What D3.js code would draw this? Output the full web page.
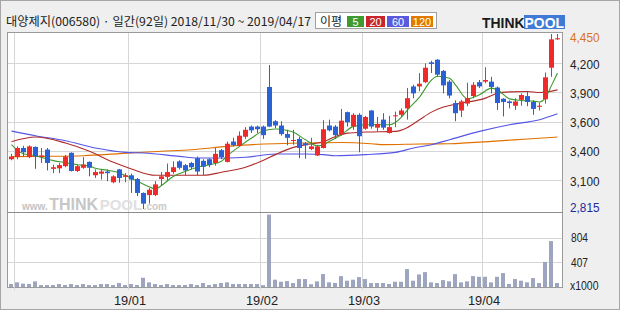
<!DOCTYPE html>
<html><head><meta charset="utf-8">
<script src="https://cdn.jsdelivr.net/npm/d3@7"></script>
<style>html,body{margin:0;padding:0;background:#efefef;}svg{display:block}</style>
</head><body><svg id="c" width="620" height="310"></svg>
<script>
// ---------- data ----------
const titleText = "대양제지(006580) · 일간(92일) 2018/11/30 ~ 2019/04/17";
const legendLabel = "이평";
const maPeriods = ["5", "20", "60", "120"];
const opens  = [3280,3300,3385,3300,3395,3300,3370,3190,3195,3215,3340,3170,3200,3255,3130,3145,3165,3065,3185,3115,3130,3095,2965,2945,2945,3095,3115,3160,3260,3225,3245,3290,3265,3280,3245,3365,3255,3445,3405,3490,3585,3585,3585,3955,3635,3595,3515,3455,3470,3430,3375,3315,3385,3595,3585,3510,3720,3585,3695,3565,3735,3575,3650,3525,3685,3695,3755,3960,3960,4000,4185,4210,4105,4005,3805,3735,3800,3870,4000,4005,4005,3950,3845,3820,3780,3835,3870,3815,3770,3840,4135,4400];
const highs  = [3330,3400,3405,3410,3400,3385,3385,3230,3245,3320,3345,3230,3300,3260,3185,3185,3185,3130,3190,3150,3145,3105,2970,3010,3075,3160,3240,3260,3270,3235,3255,3305,3280,3290,3385,3375,3445,3480,3540,3580,3595,3595,3595,4160,3645,3635,3555,3555,3490,3440,3480,3415,3645,3650,3600,3750,3725,3710,3710,3685,3740,3675,3710,3685,3725,3755,3945,3975,4085,4175,4200,4215,4115,4020,3830,3835,3995,4000,4020,4140,4050,3960,3850,3830,3850,3895,3915,3830,3810,4090,4450,4450];
const lows   = [3270,3280,3305,3290,3190,3245,3175,3150,3150,3205,3165,3160,3190,3120,3105,3090,3075,3055,3060,3065,2965,2935,2815,2865,2935,3030,3075,3145,3185,3130,3185,3130,3130,3205,3220,3280,3250,3400,3400,3470,3525,3525,3470,3580,3570,3500,3410,3415,3290,3285,3365,3310,3380,3540,3470,3500,3585,3555,3345,3555,3565,3540,3555,3520,3580,3675,3650,3850,3915,3990,4085,4050,3895,3850,3635,3675,3775,3850,3945,3990,3895,3740,3680,3755,3740,3780,3775,3695,3735,3800,4050,4395];
const closes = [3305,3385,3345,3400,3305,3315,3245,3205,3225,3305,3170,3215,3230,3200,3160,3165,3150,3120,3105,3130,3090,2965,2865,2995,3045,3120,3160,3205,3200,3175,3205,3165,3210,3225,3330,3300,3425,3410,3500,3555,3550,3560,3505,3585,3595,3515,3480,3460,3385,3410,3400,3400,3560,3550,3505,3640,3625,3695,3495,3675,3585,3610,3575,3580,3690,3735,3850,3895,3985,4135,4170,4070,3970,3875,3710,3820,3850,3975,3960,4020,3955,3805,3815,3805,3820,3880,3815,3750,3780,4045,4400,4410];
const volumes = [49,76,55,49,92,32,32,32,49,32,49,32,49,32,32,49,49,32,65,32,49,32,151,76,49,32,49,32,32,32,49,32,65,32,49,65,76,49,49,49,49,49,30,1183,119,86,97,65,130,130,45,92,211,76,65,178,103,119,162,130,65,65,65,49,86,86,292,103,205,243,76,65,113,92,211,76,92,178,167,167,76,167,227,49,130,103,76,146,65,410,750,65];

const ma5Idx  = [0,1,2,4,7,9,11,13,14,16,18,19,21,23,24,25,27,29,31,33,35,36,38,40,42,44,46,47,49,51,52,53,55,57,59,61,63,65,66,68,70,71,73,74,76,78,80,81,83,85,87,88,89,90,91];
const ma5Val  = [3416,3363,3332,3313,3267,3248,3229,3217,3195,3177,3152,3127,3074,3021,3003,3034,3121,3167,3205,3229,3261,3313,3400,3478,3546,3562,3549,3531,3462,3406,3416,3447,3509,3587,3602,3602,3602,3674,3742,3860,4020,4055,4037,3975,3844,3882,3944,3928,3844,3829,3823,3815,3855,3970,4085];
const ma20Idx = [0,4,9,13,17,20,24,28,32,35,39,42,44,47,49,52,54,56,59,64,66,68,70,72,75,79,81,83,86,88,91];
const ma20Val = [3444,3487,3431,3354,3251,3189,3130,3130,3130,3158,3205,3270,3323,3391,3416,3444,3493,3524,3534,3540,3577,3649,3720,3767,3804,3851,3897,3909,3913,3903,3928];
const ma60Idx = [0,4,9,14,19,22,28,31,36,39,44,49,52,54,59,64,67,70,73,78,83,88,91];
const ma60Val = [3543,3500,3453,3385,3344,3338,3307,3292,3292,3298,3329,3329,3323,3313,3323,3344,3385,3416,3462,3540,3602,3649,3704];
const ma120Idx = [0,5,12,18,25,30,36,42,48,55,60,62,68,73,80,86,91];
const ma120Val = [3304,3307,3313,3332,3354,3369,3400,3422,3431,3437,3425,3416,3422,3425,3447,3469,3487];

const priceTicks = [2815,3087.5,3360,3632.5,3905,4177.5,4450];
const priceTickLabels = ["2,815","3,100","3,400","3,600","3,900","4,200","4,450"];
const volTicks = [407,804];
const volTickLabels = ["407","804"];
const volUnit = "x1000";
const monthIdx = [1,20,42,59,79];
const monthLabels = ["","19/01","19/02","19/03","19/04"];
const watermarkParts = [["www.",10,"#c4c4c4"],["THINK",16,"#c6c6c6"],["POOL",15,"#e0e0e0"],[".com",10,"#cacaca"]];

// ---------- drawing ----------
const svg = d3.select("#c");
const N = closes.length;
const P = {x0:7, x1:562, y0:32, ySep:212, y1:287};
const x = d3.scaleBand().domain(d3.range(N)).range([8, 560]);
const cx = i => x(i) + 3;
const y = d3.scaleLinear().domain([2815,4450]).range([209,34]);
const yv = d3.scaleLinear().domain([0,1225]).range([287,212]);
const UP = "#ee2a2a", DOWN = "#2a62d6";

svg.append("rect").attr("x",0.5).attr("y",0.5).attr("width",619).attr("height",309)
  .attr("fill","#efefef").attr("stroke","#a6a6a6");

// title
svg.append("text").attr("x",6).attr("y",26).text(titleText)
  .attr("font-family","'Noto Sans CJK KR'").attr("font-size",12).attr("fill","#222")
  .attr("textLength",305).attr("lengthAdjust","spacingAndGlyphs");

// legend
const lg = svg.append("g");
lg.append("rect").attr("x",315.5).attr("y",12.5).attr("width",121).attr("height",16)
  .attr("fill","#fff").attr("stroke","#a0a0a0");
lg.append("text").attr("x",320).attr("y",25.5).text(legendLabel)
  .attr("font-family","'Noto Sans CJK KR'").attr("font-size",12).attr("fill","#222");
const legBoxes = [[347,17,"#3f9b2f"],[366,19,"#c8262a"],[387,22,"#5a5ae0"],[411,22,"#e07a00"]];
maPeriods.forEach((p,k)=>{
  const b = legBoxes[k];
  lg.append("rect").attr("x",b[0]).attr("y",16).attr("width",b[1]).attr("height",11).attr("fill",b[2]);
  lg.append("text").attr("x",b[0]+b[1]/2).attr("y",25.5).attr("text-anchor","middle").text(p)
    .attr("font-family","'Liberation Sans'").attr("font-size",11).attr("fill","#fff");
});

// logo
const lo = svg.append("g");
lo.append("rect").attr("x",524).attr("y",15).attr("width",41).attr("height",14).attr("fill","#3f7bd6");
const logoT = lo.append("text").attr("x",482).attr("y",28)
  .attr("font-family","'Liberation Sans'").attr("font-weight","bold").attr("font-size",15)
  .attr("textLength",82).attr("lengthAdjust","spacingAndGlyphs");
logoT.append("tspan").text("THINK").attr("fill","#1a1a1a");
logoT.append("tspan").text("POOL").attr("fill","#fff");

// plot area
svg.append("rect").attr("x",P.x0+0.5).attr("y",P.y0+0.5).attr("width",P.x1-P.x0).attr("height",P.y1-P.y0)
  .attr("fill","#fff").attr("stroke","#9a9a9a");

// grid
const grid = svg.append("g").attr("stroke","#d6d6d6").attr("stroke-width",1);
priceTicks.slice(1,-1).forEach(t=>{
  const yy = Math.round(y(t))+0.5;
  grid.append("line").attr("x1",P.x0+1).attr("x2",P.x1).attr("y1",yy).attr("y2",yy);
});
volTicks.forEach(t=>{
  const yy = Math.round(yv(t))+0.5;
  grid.append("line").attr("x1",P.x0+1).attr("x2",P.x1).attr("y1",yy).attr("y2",yy);
});
monthIdx.forEach(i=>{
  grid.append("line").attr("x1",x(i)+0.5).attr("x2",x(i)+0.5).attr("y1",P.y0+1).attr("y2",P.y1+3);
});
svg.append("line").attr("x1",P.x0).attr("x2",P.x1+1).attr("y1",P.ySep+0.5).attr("y2",P.ySep+0.5)
  .attr("stroke","#8c8c8c");

// watermark: separate texts chained left to right with a small gap
let wx = 22;
watermarkParts.forEach(([t,fs,col])=>{
  const el = svg.append("text").attr("x",wx).attr("y",210).text(t)
    .attr("font-family","'Liberation Sans'").attr("font-weight","bold")
    .attr("font-size",fs).attr("fill",col);
  wx += el.node().getComputedTextLength() + 1.5;
});

// volume bars
svg.append("g").selectAll("rect").data(volumes).join("rect")
  .attr("x",(d,i)=>x(i)+1).attr("width",4)
  .attr("y",d=>yv(d)).attr("height",d=>287-yv(d)).attr("fill","#9ea6bf");

// moving averages
const maDefs = [[ma120Idx,ma120Val,"#e07000"],[ma60Idx,ma60Val,"#5555e6"],[ma20Idx,ma20Val,"#b02a2a"],[ma5Idx,ma5Val,"#3f9b2f"]];
const lineGen = d3.line().x(d=>cx(d[0])+0.5).y(d=>y(d[1])).curve(d3.curveMonotoneX);
maDefs.forEach(([ix,vals,col])=>{
  svg.append("path").datum(ix.map((v,k)=>[v,vals[k]])).attr("d",lineGen)
    .attr("fill","none").attr("stroke",col).attr("stroke-width",1.1);
});

// candles
const cg = svg.append("g");
d3.range(N).forEach(i=>{
  const up = closes[i] >= opens[i];
  const col = up ? UP : DOWN;
  cg.append("line").attr("x1",cx(i)+0.5).attr("x2",cx(i)+0.5)
    .attr("y1",y(highs[i])).attr("y2",y(lows[i])).attr("stroke",col);
  const top = y(Math.max(opens[i],closes[i])), bot = y(Math.min(opens[i],closes[i]));
  cg.append("rect").attr("x",x(i)+1).attr("width",5)
    .attr("y",top).attr("height",Math.max(1,bot-top)).attr("fill",col);
});

// right axis labels
const ax = svg.append("g").attr("font-family","'Liberation Sans'").attr("font-size",13);
priceTicks.forEach((t,k)=>{
  let yy = y(t)+5.8;
  if (k===0) yy = 211.5;
  if (k===priceTicks.length-1) yy = 41.7;
  const col = k===0 ? "#1c2a9c" : (k===priceTicks.length-1 ? "#d8741a" : "#222");
  ax.append("text").attr("x",570).attr("y",yy).text(priceTickLabels[k]).attr("fill",col)
    .attr("textLength",29.5).attr("lengthAdjust","spacingAndGlyphs");
});
volTicks.forEach((t,k)=>{
  ax.append("text").attr("x",571).attr("y",yv(t)+4.6).text(volTickLabels[k]).attr("fill","#222")
    .attr("font-size",12).attr("textLength",17).attr("lengthAdjust","spacingAndGlyphs");
});
ax.append("text").attr("x",570).attr("y",290.3).text(volUnit).attr("fill","#222")
  .attr("font-size",12).attr("textLength",28.5).attr("lengthAdjust","spacingAndGlyphs");

// date labels
monthIdx.forEach((i,k)=>{
  if (!monthLabels[k]) return;
  ax.append("text").attr("x",x(i)+2).attr("y",305).attr("text-anchor","middle").text(monthLabels[k])
    .attr("fill","#222").attr("textLength",32).attr("lengthAdjust","spacingAndGlyphs");
});
</script></body></html>
